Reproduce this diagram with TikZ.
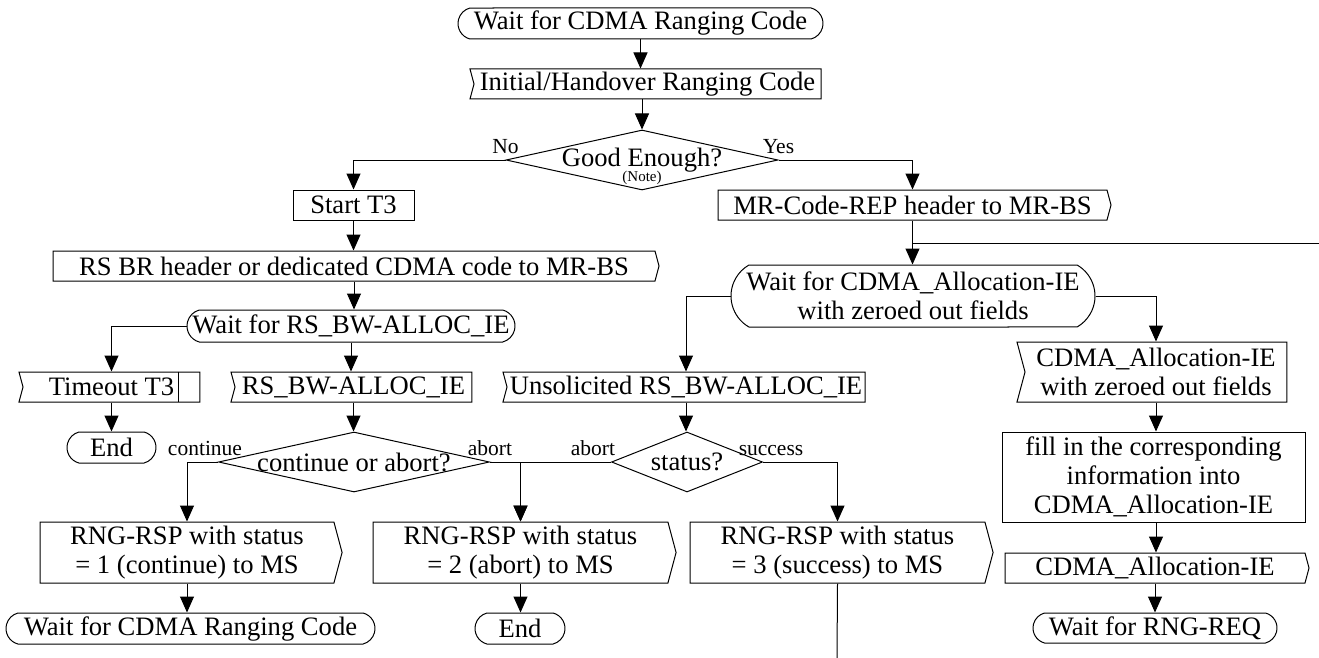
\documentclass[tikz,border=0pt]{standalone}
\usepackage{fontspec}
\setmainfont{Liberation Serif}
\usepackage{tikz}
\usetikzlibrary{positioning, arrows.meta, shapes.geometric, shapes.misc, shapes.symbols}
\newcommand{\boxfont}{\fontsize{26.6}{29}\selectfont}
\newcommand{\lblfont}{\fontsize{21.5}{24}\selectfont}
\newcommand{\notefont}{\fontsize{15}{17}\selectfont}
\newcommand{\dtext}[1]{\makebox[0pt]{#1}}

\tikzset{
  base/.style={draw, line width=1pt, font=\boxfont, align=center, inner sep=0pt},
  state/.style={base, rounded rectangle, rounded rectangle arc length=150},
  task/.style={base, rectangle},
  sigin/.style={base, signal, signal to=nowhere, signal from=west, signal pointer angle=150},
  sigout/.style={base, signal, signal to=east, signal from=nowhere, signal pointer angle=150},
  decision/.style={base, diamond},
  lbl/.style={font=\lblfont, inner sep=1pt},
  conn/.style={line width=1pt, -{Triangle[length=16pt,width=14pt]}},
  wire/.style={line width=1pt},
}

\begin{document}
\begin{tikzpicture}[x=1pt, y=-1pt]
		\useasboundingbox (0,0) rectangle (1319,658);
		
		% top: ranging code
		\node[state, minimum width=365, minimum height=31] (wait0) at (640.5,23.5) {Wait for CDMA Ranging Code};
		\node[sigin, minimum width=351, minimum height=30] (inho) at (647.5,84) {Initial/Handover Ranging Code};
		\node[decision, minimum width=272, minimum height=60] (good) at (642,160) {\dtext{Good Enough?}};
		\node[font=\notefont, inner sep=0pt] (note) at (642,178) {(Note)};
		\node[lbl, above=5pt of good.west] (no) {No};
		\node[lbl, above=5pt of good.east] (yes) {Yes};
		
		% left column
		\node[task, minimum width=121, minimum height=30] (start) at (353.5,205) {Start T3};
		\node[sigout, minimum width=606, minimum height=30] (rsbr) at (354,266) {RS BR header or dedicated CDMA code to MR-BS};
		\node[state, minimum width=328, minimum height=32] (waitbw) at (351,326) {Wait for RS\_BW-ALLOC\_IE};
		\node[sigin, minimum width=181, minimum height=30] (tmo) at (111.5,387) {Timeout T3};
		\node[sigin, minimum width=241, minimum height=30] (bwin) at (353.5,387) {RS\_BW-ALLOC\_IE};
		\node[state, minimum width=89, minimum height=31] (end1) at (111.5,447.5) {End};
		\node[decision, minimum width=271, minimum height=60] (cont) at (354,462) {\dtext{continue or abort?}};
		\node[lbl, above=5pt of cont.west, xshift=-13pt] (lcont) {continue};
		\node[lbl, above=5pt of cont.east] (labort) {abort};
		
		% right column
		\node[sigout, minimum width=393, minimum height=30] (mrrep) at (912.5,205) {MR-Code-REP header to MR-BS};
		\node[state, rounded rectangle arc length=120, minimum width=364, minimum height=62] (waitalloc) at (913,296) {Wait for CDMA\_Allocation-IE\\with zeroed out fields};
		\node[sigin, minimum width=362, minimum height=30] (unsol) at (686,387) {Unsolicited RS\_BW-ALLOC\_IE};
		\node[decision, minimum width=151, minimum height=60] (stat) at (687,462) {\dtext{status?}};
		\node[lbl, above=5pt of stat.west, xshift=-18pt] (rabort) {abort};
		\node[lbl, above=5pt of stat.east, xshift=8pt] (succ) {success};
		\node[sigin, minimum width=270, minimum height=60] (allocin) at (1156,372) {CDMA\_Allocation-IE\\with zeroed out fields};
		\node[task, minimum width=303, minimum height=90] (fill) at (1153.5,477) {fill in the corresponding\\information into\\CDMA\_Allocation-IE};
		\node[sigout, minimum width=304, minimum height=30] (allocout) at (1155,568) {CDMA\_Allocation-IE};
		\node[state, minimum width=244, minimum height=30] (waitreq) at (1155,628) {Wait for RNG-REQ};
		
		% bottom row
		\node[sigout, minimum width=302, minimum height=61] (rsp1) at (187,552.5) {RNG-RSP with status\\= 1 (continue) to MS};
		\node[sigout, minimum width=303, minimum height=61] (rsp2) at (520.5,552.5) {RNG-RSP with status\\= 2 (abort) to MS};
		\node[sigout, minimum width=303, minimum height=61] (rsp3) at (837.5,552.5) {RNG-RSP with status\\= 3 (success) to MS};
		\node[state, minimum width=369, minimum height=31] (wait1) at (190.5,628.5) {Wait for CDMA Ranging Code};
		\node[state, minimum width=90, minimum height=31] (end2) at (520,628.5) {End};
		
		\coordinate (offr) at (1319,243);
		\coordinate (offb) at (837,658);
		
		% timer mark
		\draw[wire] ([xshift=-22pt]tmo.north east) -- ([xshift=-22pt]tmo.south east);
		
		% connectors
		\draw[conn] (wait0.south) -- (wait0.south |- inho.north);
		\draw[conn] (good.north |- inho.south) -- (good.north);
		\draw[conn] (good.west) -| (start.north);
		\draw[conn] (good.east) -| (mrrep.north);
		\draw[conn] (start.south) -- (start.south |- rsbr.north);
		\draw[conn] (rsbr.south) -- (rsbr.south |- waitbw.north);
		\draw[conn] (waitbw.west) -| (tmo.north);
		\draw[conn] (waitbw.south) -- (waitbw.south |- bwin.north);
		\draw[conn] (tmo.south) -- (tmo.south |- end1.north);
		\draw[conn] (bwin.south) -- (bwin.south |- cont.north);
		\draw[conn] (cont.west) -| (rsp1.north);
		\draw[conn] (cont.east) -| (rsp2.north);
		\draw[conn] (stat.west) -| (rsp2.north);
		\draw[conn] (stat.east) -| (rsp3.north);
		\draw[conn] (unsol.south) -- (unsol.south |- stat.north);
		\draw[conn] (mrrep.south) -- (mrrep.south |- waitalloc.north);
		\draw[wire] (mrrep.south |- offr) -- (offr);
		\draw[conn] (waitalloc.west) -| (unsol.north);
		\draw[conn] (waitalloc.east) -| (allocin.north);
		\draw[conn] (allocin.south) -- (allocin.south |- fill.north);
		\draw[conn] ([xshift=2.5pt]fill.south) -- ([xshift=2.5pt]fill.south |- allocout.north);
		\draw[conn] (allocout.south) -- (allocout.south |- waitreq.north);
		\draw[conn] (rsp1.south) -- (rsp1.south |- wait1.north);
		\draw[conn] (rsp2.south) -- (rsp2.south |- end2.north);
		\draw[wire] (rsp3.south) -- (offb);
	\end{tikzpicture}
\end{document}
